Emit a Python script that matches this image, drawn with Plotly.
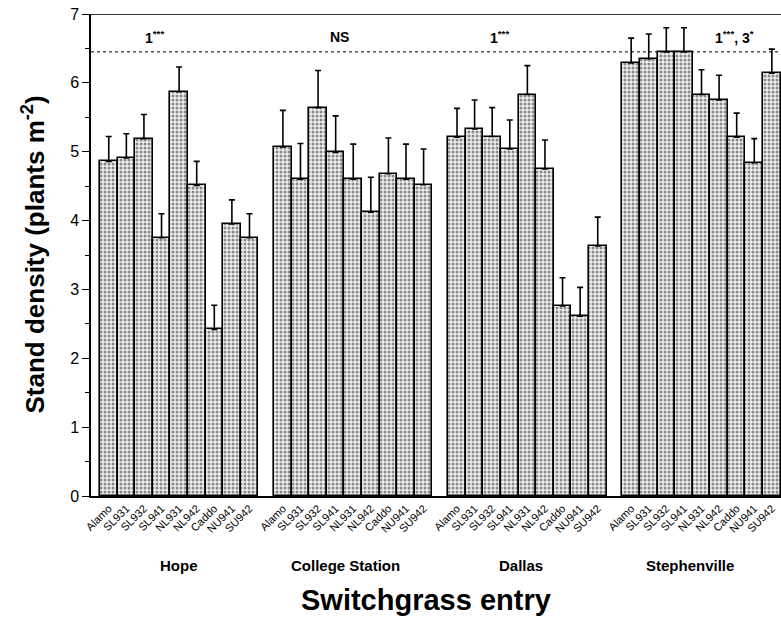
import plotly.graph_objects as go

# Stand density of switchgrass entries at four Texas/Arkansas locations
locations = ["Hope", "College Station", "Dallas", "Stephenville"]
entries = ["Alamo", "SL931", "SL932", "SL941", "NL931", "NL942", "Caddo", "NU941", "SU942"]

hope = [4.86, 4.91, 5.19, 3.75, 5.87, 4.51, 2.42, 3.95, 3.75]
hope_se = [0.36, 0.35, 0.35, 0.35, 0.36, 0.35, 0.35, 0.35, 0.35]

college_station = [5.07, 4.60, 5.64, 4.99, 4.60, 4.12, 4.68, 4.60, 4.52]
college_station_se = [0.53, 0.52, 0.54, 0.53, 0.51, 0.51, 0.52, 0.51, 0.52]

dallas = [5.21, 5.33, 5.22, 5.04, 5.83, 4.75, 2.76, 2.61, 3.63]
dallas_se = [0.42, 0.42, 0.42, 0.42, 0.42, 0.42, 0.41, 0.42, 0.42]

stephenville = [6.29, 6.35, 6.45, 6.45, 5.83, 5.75, 5.21, 4.84, 6.14]
stephenville_se = [0.36, 0.36, 0.35, 0.35, 0.36, 0.36, 0.35, 0.35, 0.35]

significance = ["1<sup>***</sup>", "NS", "1<sup>***</sup>", "1<sup>***</sup>, 3<sup>*</sup>"]
sig_x = [2.6, 13.1, 22.2, 35.6]
lsd_line = 6.45

means = [hope, college_station, dallas, stephenville]
errors = [hope_se, college_station_se, dallas_se, stephenville_se]

group_step = 9.9
label_shift = [0, -8, -6, -12]
font_family = "Liberation Sans, Arial, Helvetica, sans-serif"

fig = go.Figure()
tick_vals, tick_text = [], []
for g, (vals, errs) in enumerate(zip(means, errors)):
    xs = [g * group_step + i for i in range(len(entries))]
    tick_vals += xs
    tick_text += entries
    fig.add_trace(go.Bar(
        x=xs, y=vals, width=1.0,
        marker=dict(
            color="white",
            line=dict(color="black", width=1.6),
            pattern=dict(shape=".", fgcolor="#222222", bgcolor="#eeeeee",
                         size=4, solidity=0.45),
        ),
        error_y=dict(type="data", array=errs, arrayminus=[0] * len(errs),
                     symmetric=False, color="black", thickness=1.6, width=3),
        showlegend=False,
        name=locations[g],
    ))

annotations = []
for g, loc in enumerate(locations):
    annotations.append(dict(
        x=g * group_step + 4, y=0, xref="x", yref="paper", yshift=-80,
        xshift=label_shift[g],
        text=f"<b>{loc}</b>", showarrow=False,
        font=dict(family=font_family, size=15, color="black"),
    ))
for sx, st in zip(sig_x, significance):
    annotations.append(dict(
        x=sx, y=6.67, xref="x", yref="y", text=f"<b>{st}</b>", showarrow=False,
        font=dict(family=font_family, size=14, color="black"),
    ))
annotations.append(dict(
    x=0.5, y=0, xref="paper", yref="paper", yshift=-122, xshift=-10,
    text="<b>Switchgrass entry</b>", showarrow=False,
    font=dict(family=font_family, size=29, color="black"),
))
annotations.append(dict(
    x=0, y=0.5, xref="paper", yref="paper", xshift=-76, textangle=-90,
    text="<b>Stand density (plants m<sup>-2</sup>)</b>", showarrow=False,
    font=dict(family=font_family, size=26, color="black"),
))

shapes = [
    dict(type="line", xref="paper", yref="y", x0=0, x1=1, y0=lsd_line, y1=lsd_line,
         line=dict(color="black", width=1, dash="dot")),
    dict(type="line", xref="paper", yref="y", x0=0, x1=1, y0=7, y1=7,
         line=dict(color="#333333", width=2)),
]

fig.update_layout(
    width=781, height=627,
    margin=dict(l=91, r=0, t=14, b=131),
    paper_bgcolor="white", plot_bgcolor="white",
    bargap=0,
    annotations=annotations,
    shapes=shapes,
    font=dict(family=font_family, color="black"),
    xaxis=dict(
        range=[-1.01, 38.22],
        tickvals=tick_vals, ticktext=tick_text, tickangle=-45,
        tickfont=dict(family=font_family, size=11, color="black"),
        showline=True, linecolor="black", linewidth=1.5,
        ticks="", showgrid=False, zeroline=False,
    ),
    yaxis=dict(
        range=[0, 7], dtick=1,
        tickfont=dict(family=font_family, size=16, color="black"),
        showline=True, linecolor="black", linewidth=1.5,
        ticks="outside", ticklen=7, tickwidth=1.2, tickcolor="black",
        minor=dict(dtick=0.5, ticks="outside", ticklen=4, tickcolor="black", tickwidth=1),
        showgrid=False, zeroline=False,
    ),
)

fig.write_html("out.html")
